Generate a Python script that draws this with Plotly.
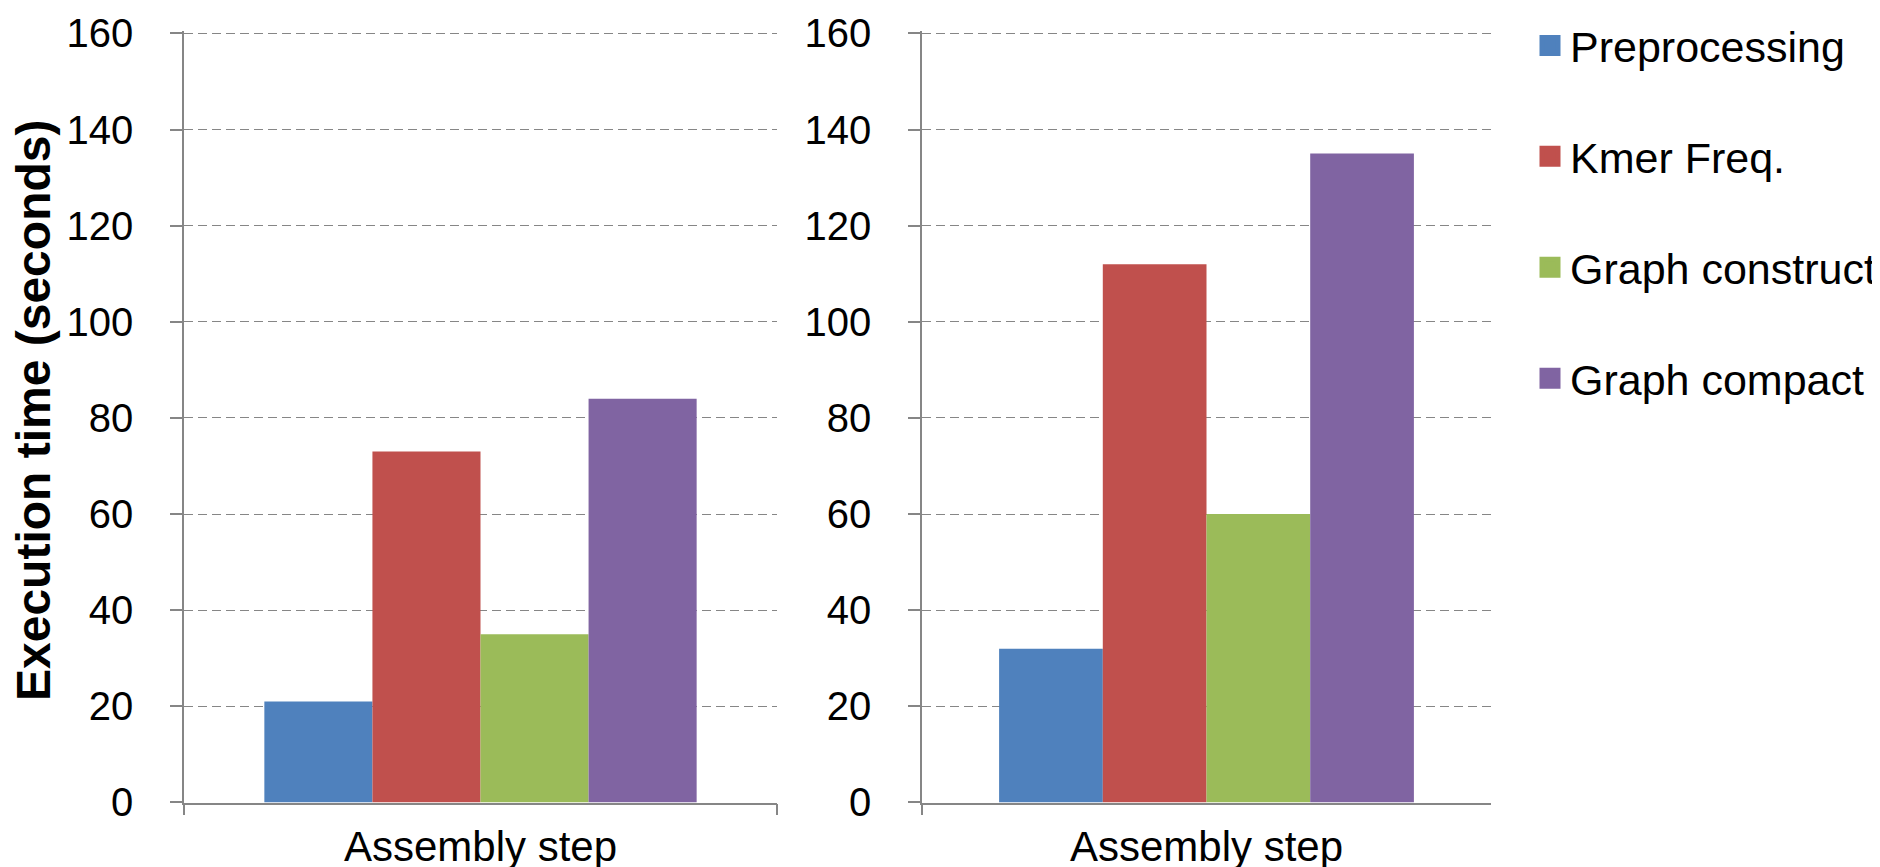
import plotly.graph_objects as go

categories = ["Assembly step"]
series_names = ["Preprocessing", "Kmer Freq.", "Graph construct", "Graph compact"]
left_values = [21, 73, 35, 84]
right_values = [32, 112, 60, 135]
colors = ["#4F81BD", "#C0504D", "#9BBB59", "#8064A2"]
y_ticks = [0, 20, 40, 60, 80, 100, 120, 140, 160]
y_title = "Execution time (seconds)"

W, H = 1880, 867
FONT = "Arial, 'Liberation Sans', sans-serif"
GRAY = "#868686"

fig = go.Figure()
# legend entries (square swatches)
for i, name in enumerate(series_names):
    fig.add_trace(go.Scatter(x=[None], y=[None], mode="markers", name=name,
                             marker=dict(symbol="square", size=16, color=colors[i],
                                         line=dict(width=5, color=colors[i])),
                             xaxis="x", yaxis="y", legendgroup=name, showlegend=True,
                             hoverinfo="skip"))
for i, name in enumerate(series_names):
    fig.add_trace(go.Bar(x=categories, y=[left_values[i]], name=name,
                         marker=dict(color=colors[i], line=dict(width=0)),
                         xaxis="x", yaxis="y", legendgroup=name, showlegend=False))
for i, name in enumerate(series_names):
    fig.add_trace(go.Bar(x=categories, y=[right_values[i]], name=name,
                         marker=dict(color=colors[i], line=dict(width=0)),
                         xaxis="x2", yaxis="y2", legendgroup=name, showlegend=False))

def xax(domain, anchor):
    return dict(domain=domain, anchor=anchor, type="category", tickson="boundaries",
                ticks="outside", ticklen=11, tickcolor=GRAY, tickwidth=1.5,
                showline=True, linecolor=GRAY, linewidth=1.5, showgrid=False,
                tickfont=dict(family=FONT, size=42, color="black"), automargin=False,
                ticklabelstandoff=6, fixedrange=True)

YMAX = 160.5
PX_PER = (794.5 - 25.4) / 160.0
TOP = 794.5 - YMAX * PX_PER

def yax(anchor):
    return dict(domain=[1 - 794.5 / H, 1 - TOP / H], anchor=anchor, range=[0, YMAX],
                tickvals=y_ticks, ticks="outside", ticklen=12, tickcolor=GRAY, tickwidth=1.5,
                showline=True, linecolor=GRAY, linewidth=1.5, showgrid=True,
                gridcolor=GRAY, gridwidth=1.3, griddash="9px,5px", zeroline=False,
                tickfont=dict(family=FONT, size=40, color="black"), automargin=False,
                ticklabelstandoff=29, fixedrange=True)

fig.update_layout(
    width=W, height=H, template="none",
    paper_bgcolor="white", plot_bgcolor="white",
    margin=dict(l=0, r=0, t=0, b=0),
    barmode="group", bargap=0.271, bargroupgap=0,
    xaxis=xax([176 / W, 769 / W], "y"),
    yaxis=yax("x"),
    xaxis2=xax([914 / W, 1483 / W], "y2"),
    yaxis2=yax("x2"),
    legend=dict(x=1522 / W, y=1 - 3 / H, xanchor="left", yanchor="top",
                font=dict(family=FONT, size=43, color="black"),
                tracegroupgap=52, bgcolor="rgba(0,0,0,0)", traceorder="grouped",
                itemsizing="trace"),
    annotations=[dict(text="<b>" + y_title + "</b>", x=26 / W, y=1 - 403 / H,
                      xref="paper", yref="paper", textangle=-90, showarrow=False,
                      xanchor="center", yanchor="middle",
                      font=dict(family=FONT, size=48, color="black"))],
    showlegend=True,
)

fig.write_html("out.html")
